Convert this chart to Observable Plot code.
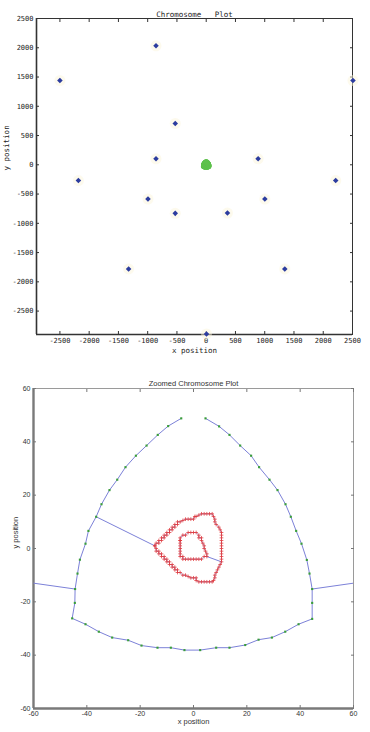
<!DOCTYPE html>
<html><head><meta charset="utf-8">
<script src="https://cdn.jsdelivr.net/npm/d3@7"></script>
<script src="https://cdn.jsdelivr.net/npm/@observablehq/plot@0.6"></script>
<style>
body{margin:0;background:#fff;}
#c{width:370px;}
#c svg{display:block;}
svg text{white-space:pre;}
</style></head><body><div id="c"></div>
<script>
// ---------- top chart data ----------
const topTitle = "Chromosome   Plot";
const topXLabel = "x position";
const topYLabel = "y position";
const topXDomain = [-2900, 2500];
const topYDomain = [-2900, 2500];
const topTicks = [-2500, -2000, -1500, -1000, -500, 0, 500, 1000, 1500, 2000, 2500];
const chromX = [-2500, -858, -529, -858, -2184, -995, -529, -1326, 887, 2508, 2213, 363, 1002, 1343, 5];
const chromY = [1440, 2034, 706, 102, -270, -585, -830, -1780, 102, 1440, -270, -825, -585, -1780, -2890];

// ---------- bottom chart data ----------
const zoomTitle = "Zoomed Chromosome Plot";
const zoomXDomain = [-60, 60];
const zoomYDomain = [-60, 60];
const zoomTicks = [-60, -40, -20, 0, 20, 40, 60];
const outerX = [-4.6, -9.5, -13.4, -17.6, -21.6, -25.5, -28.6, -31.5, -34.5, -36.5, -39.4, -40.5, -42.6, -43.5, -44.4, -44.5, -45.5, -40.5, -35.5, -30.5, -24.5, -19.5, -13.5, -8.5, -3.4, 2.5, 8.5, 13.5, 19.4, 24.4, 29.4, 34.4, 39.4, 44.5, 44.5, 44.5, 43.5, 42.5, 40.5, 38.5, 36.5, 34.5, 31.5, 28.5, 24.6, 21.6, 17.5, 13.5, 9.6, 4.5];
const outerY = [48.8, 45.9, 42.6, 38.6, 34.8, 30.5, 25.8, 21.9, 16.6, 11.9, 6.6, 1.8, -4.2, -9.4, -15.2, -20.4, -26.2, -28.4, -31.2, -33.4, -34.4, -36.4, -37.2, -37.2, -38.1, -38.1, -37.2, -37.2, -36.2, -34.2, -33.4, -31.2, -28.4, -26.4, -20.4, -15.2, -9.4, -4.3, 1.8, 6.6, 11.9, 16.6, 21.9, 25.8, 30.5, 34.8, 38.6, 42.6, 45.8, 48.8];
const loopAX = [-14.5, -14, -13, -13, -12, -12, -11, -11, -10, -10, -9, -9, -8, -8, -7, -7, -6, -6, -5, -4, -3, -2, -1, 0, 0.5, 1, 2, 3, 4, 5, 6, 7, 7.5, 8, 8, 8.5, 9.5, 10, 10.5, 10.5, 10.5, 10.5, 10.5, 10.5, 10.5, 10.5, 10.5, 10.5, 10.5, 10.5, 10, 9.5, 9, 8.5, 8, 8, 7.5, 7, 6, 5, 4, 3, 2, 1, 1, 0, -1, -2, -3, -4, -5, -6, -6, -7, -7, -8, -8, -9, -9, -10, -10, -11, -11, -12, -12, -13, -13, -14, -14, -14.5];
const loopAY = [1, 2, 2, 3, 3, 4, 4, 5, 5, 6, 6, 7, 7, 8, 8, 9, 9, 10, 10, 10.5, 11, 11, 11, 11, 12, 12, 12.5, 13, 13, 13, 13, 13, 12, 11, 10, 9, 8, 7, 6, 5, 4, 3, 2, 1, 0, -1, -2, -3, -4, -5, -6, -7, -8, -9, -10, -11, -12, -12.5, -12.5, -12.5, -12.5, -12.5, -12.5, -12, -11, -11, -11, -10.5, -10, -10, -9, -9, -8, -8, -7, -7, -6, -6, -5, -5, -4, -4, -3, -3, -2, -2, -1, -1, 0, 1];
const loopBX = [-5, -5, -4, -3, -2, -1, 0, 1, 2, 2, 3, 3, 3.5, 4, 4, 4.5, 5, 5, 4, 3, 2, 1, 0, -1, -2, -3, -4, -4, -5, -5, -5, -5, -5, -5, -5];
const loopBY = [3, 4, 5, 5, 6, 6, 6, 6, 5, 4, 4, 3, 2, 1, 0, -1, -2, -3, -3, -4, -4, -4, -4, -4, -4, -4, -4, -3, -3, -2, -1, 0, 1, 2, 3];
const linkX1 = [-36.5, 5, -44.4, 44.5];
const linkY1 = [11.9, -3, -15.2, -15.2];
const linkX2 = [-14.5, 10.5, -60, 60];
const linkY2 = [1, -5, -13, -13];

// ---------- tables ----------
const chromPts = chromX.map((x, i) => ({x, y: chromY[i]}));
const outerPts = outerX.map((x, i) => ({x, y: outerY[i]}));
const loopA = loopAX.map((x, i) => ({x, y: loopAY[i]}));
const loopB = loopBX.map((x, i) => ({x, y: loopBY[i]}));
const links = linkX1.map((x1, i) => ({x1, y1: linkY1[i], x2: linkX2[i], y2: linkY2[i]}));

const mono = "'DejaVu Sans Mono', monospace";
const sans = "'Liberation Sans', Arial, sans-serif";
const plain = d => String(d);

const chart1 = Plot.plot({
  width: 370, height: 366,
  marginLeft: 36, marginRight: 18, marginTop: 18, marginBottom: 32,
  x: {domain: topXDomain}, y: {domain: topYDomain},
  style: {fontFamily: mono, fontSize: "7px", color: "#222", background: "#fff"},
  marks: [
    Plot.frame({stroke: "#333", strokeWidth: 1}),
    Plot.ruleX([topXDomain[0]], {stroke: "#333", strokeWidth: 1.6}),
    Plot.ruleY([topYDomain[0]], {stroke: "#333", strokeWidth: 1.6}),
    Plot.axisX(topTicks, {anchor: "bottom", tickSize: -3, fill: "none", label: null, stroke: "#333"}),
    Plot.axisX(topTicks, {anchor: "top", tickSize: -3, fill: "none", label: null, stroke: "#333"}),
    Plot.axisY(topTicks, {anchor: "left", tickSize: -3, fill: "none", label: null, stroke: "#333"}),
    Plot.axisY(topTicks, {anchor: "right", tickSize: -3, fill: "none", label: null, stroke: "#333"}),
    Plot.axisX(topTicks, {anchor: "bottom", tickSize: 0, tickPadding: 4, label: null, fill: "#222", tickFormat: plain}),
    Plot.axisY(topTicks, {anchor: "left", tickSize: 0, tickPadding: 3, label: null, fill: "#222", tickFormat: plain}),
    Plot.dot(chromPts, {x: "x", y: "y", r: 5.5, fill: "#fcf6dc", fillOpacity: 0.5}),
    Plot.dot(chromPts, {x: "x", y: "y", r: 2.5, symbol: "diamond2", fill: "#2c3c9f"}),
    Plot.dot(outerPts, {x: "x", y: "y", r: 2.6, fill: "#5ec14c"}),
    Plot.text([topTitle], {text: d => d, frameAnchor: "top", dy: -7, fontSize: 7.5}),
    Plot.text([topXLabel], {text: d => d, frameAnchor: "bottom", dy: 18.5, fontSize: 7.5}),
    Plot.text([topYLabel], {text: d => d, frameAnchor: "left", dx: -30, dy: -6, rotate: -90, fontSize: 7.5})
  ]
});

const chart2 = Plot.plot({
  width: 370, height: 366,
  marginLeft: 33, marginRight: 17, marginTop: 22, marginBottom: 24,
  x: {domain: zoomXDomain}, y: {domain: zoomYDomain},
  style: {fontFamily: sans, fontSize: "7px", color: "#333", background: "#fff"},
  marks: [
    Plot.frame({stroke: "#9a9a9a", strokeWidth: 1}),
    Plot.ruleX([zoomXDomain[0]], {stroke: "#7a7a7a", strokeWidth: 2.4}),
    Plot.ruleY([zoomYDomain[0]], {stroke: "#7a7a7a", strokeWidth: 2.4}),
    Plot.axisX(zoomTicks, {anchor: "bottom", tickSize: -3, fill: "none", label: null, stroke: "#777"}),
    Plot.axisX(zoomTicks, {anchor: "top", tickSize: -3, fill: "none", label: null, stroke: "#777"}),
    Plot.axisY(zoomTicks, {anchor: "left", tickSize: -3, fill: "none", label: null, stroke: "#777"}),
    Plot.axisY(zoomTicks, {anchor: "right", tickSize: -3, fill: "none", label: null, stroke: "#777"}),
    Plot.axisX(zoomTicks, {anchor: "bottom", tickSize: 0, tickPadding: 3, label: null, fill: "#333", tickFormat: plain}),
    Plot.axisY(zoomTicks, {anchor: "left", tickSize: 0, tickPadding: 3, label: null, fill: "#333", tickFormat: plain}),
    Plot.line(outerPts, {x: "x", y: "y", stroke: "#7c81d8", strokeWidth: 1}),
    Plot.link(links, {x1: "x1", y1: "y1", x2: "x2", y2: "y2", stroke: "#7c81d8", strokeWidth: 1, clip: true}),
    Plot.line(loopA, {x: "x", y: "y", stroke: "#6f74d0", strokeWidth: 0.7}),
    Plot.line(loopB, {x: "x", y: "y", stroke: "#6f74d0", strokeWidth: 0.7}),
    Plot.dot(loopA, {x: "x", y: "y", r: 1.3, symbol: "plus", stroke: "#e2393b", strokeWidth: 0.9, strokeOpacity: 0.85}),
    Plot.dot(loopB, {x: "x", y: "y", r: 1.3, symbol: "plus", stroke: "#e2393b", strokeWidth: 0.9, strokeOpacity: 0.85}),
    Plot.dot(outerPts, {x: "x", y: "y", r: 1.2, symbol: "square", fill: "#3a9e3a"}),
    Plot.text([zoomTitle], {text: d => d, frameAnchor: "top", dy: -8, fontSize: 7.5}),
    Plot.text([topXLabel], {text: d => d, frameAnchor: "bottom", dy: 15, fontSize: 7.5}),
    Plot.text([topYLabel], {text: d => d, frameAnchor: "left", dx: -18, rotate: -90, fontSize: 7.5})
  ]
});

document.getElementById("c").append(chart1, chart2);
</script>
</body></html>
